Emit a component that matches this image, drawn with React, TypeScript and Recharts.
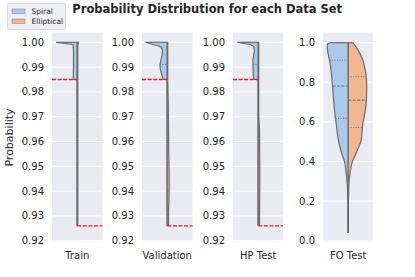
import {
  ComposedChart,
  Area,
  XAxis,
  YAxis,
  CartesianGrid,
  ReferenceLine,
} from "recharts";

const FONT = "DejaVu Sans, sans-serif";
const TEXT = "#262626";
const SPIRAL_COLOR = "#abc9ea";
const ELLIPTICAL_COLOR = "#efb792";
const EDGE = "#6b6b6b";
const THRESHOLD_COLOR = "#ff1414";

const seriesNames = ["Spiral", "Elliptical"];
const dataSets = ["Train", "Validation", "HP Test", "FO Test"];

// probability levels and half-widths of each violin (1 = half of the panel);
// a level listed twice marks where a half is cut off flat
const trainP = [1.0, 0.9996, 0.9992, 0.999, 0.997, 0.993, 0.99, 0.985, 0.985, 0.97, 0.95, 0.935, 0.926];
const trainSpiral = [0.83, 0.5, 0.25, 0.17, 0.15, 0.15, 0.15, 0.16, 0, 0, 0, 0, 0];
const trainElliptical = [0.07, 0.04, 0.03, 0.025, 0.02, 0.02, 0.02, 0.02, 0.02, 0.02, 0.02, 0.02, 0.02];

const valP = [1.0, 0.9994, 0.9989, 0.9985, 0.998, 0.9969, 0.9949, 0.9929, 0.9909, 0.9888, 0.9868, 0.985, 0.985, 0.975, 0.965, 0.955, 0.945, 0.937, 0.932, 0.926];
const valSpiral = [0.85, 0.68, 0.5, 0.33, 0.24, 0.19, 0.2, 0.25, 0.29, 0.27, 0.21, 0.17, 0, 0, 0, 0, 0, 0, 0, 0];
const valElliptical = [0.03, 0.02, 0.02, 0.02, 0.02, 0.02, 0.02, 0.02, 0.02, 0.02, 0.02, 0.02, 0.02, 0.04, 0.05, 0.06, 0.08, 0.07, 0.05, 0.05];

const hpP = [1.0, 0.9995, 0.999, 0.9985, 0.9982, 0.9974, 0.9966, 0.995, 0.993, 0.99, 0.9875, 0.985, 0.985, 0.97, 0.965, 0.95, 0.94, 0.93, 0.926];
const hpSpiral = [0.82, 0.55, 0.29, 0.22, 0.18, 0.16, 0.15, 0.18, 0.21, 0.21, 0.2, 0.18, 0, 0, 0, 0, 0, 0, 0];
const hpElliptical = [0.02, 0.02, 0.02, 0.02, 0.02, 0.02, 0.02, 0.02, 0.02, 0.02, 0.02, 0.02, 0.02, 0.02, 0.05, 0.06, 0.06, 0.05, 0.05];

const foP = [1.0, 0.99, 0.98, 0.946, 0.91, 0.863, 0.82, 0.778, 0.71, 0.643, 0.593, 0.542, 0.508, 0.475, 0.458, 0.433, 0.407, 0.39, 0.357, 0.34, 0.306, 0.29, 0.256, 0.22, 0.189, 0.1, 0.04];
const foSpiral = [0.74, 0.83, 0.83, 0.8, 0.74, 0.68, 0.65, 0.62, 0.58, 0.53, 0.48, 0.43, 0.39, 0.33, 0.3, 0.24, 0.17, 0.13, 0.1, 0.08, 0.055, 0.045, 0.03, 0.02, 0.015, 0.01, 0.008];
const foElliptical = [0.18, 0.24, 0.3, 0.46, 0.58, 0.67, 0.72, 0.73, 0.72, 0.65, 0.58, 0.54, 0.51, 0.42, 0.36, 0.28, 0.19, 0.14, 0.09, 0.07, 0.04, 0.03, 0.02, 0.01, 0.004, 0, 0];

// quartile lines inside the halves
const foSpiralQuartiles = [0.912, 0.781, 0.618];
const foEllipticalQuartiles = [0.828, 0.71, 0.572];
const valSpiralQuartiles = [0.9911];
const hpSpiralQuartiles = [0.9911];

// red threshold lines: spiral on the left half, elliptical on the right half
const spiralThreshold = 0.985;
const ellipticalThreshold = 0.926;

const highTicks = [0.92, 0.93, 0.94, 0.95, 0.96, 0.97, 0.98, 0.99, 1.0];
const fullTicks = [0.0, 0.2, 0.4, 0.6, 0.8, 1.0];

const PANEL_W = 50.5;
const PANEL_GAP = 90.3;
const FIRST_LEFT = 52;
const AXIS_W = 45;
const PLOT_TOP = 32;
const PLOT_H = 210;
const XAXIS_H = 25;

function widthAt(p: number[], w: number[], q: number) {
  for (let i = 0; i < p.length - 1; i++) {
    const a = p[i];
    const b = p[i + 1];
    if (a !== b && ((q <= a && q >= b) || (q >= a && q <= b))) {
      return w[i] + ((q - a) / (b - a)) * (w[i + 1] - w[i]);
    }
  }
  return 0;
}

type Segment = [{ x: number; y: number }, { x: number; y: number }];

type PanelProps = {
  name: string;
  index: number;
  p: number[];
  spiral: number[];
  elliptical: number[];
  domain: [number, number];
  ticks: number[];
  digits: number;
  curve: "linear" | "monotone";
  spiralQuartiles: number[];
  ellipticalQuartiles: number[];
  thresholds: boolean;
};

function ViolinPanel({
  name,
  index,
  p,
  spiral,
  elliptical,
  domain,
  ticks,
  digits,
  curve,
  spiralQuartiles,
  ellipticalQuartiles,
  thresholds,
}: PanelProps) {
  const data = p.map((v, i) => ({
    p: v,
    spiral: [-spiral[i], 0],
    elliptical: [0, elliptical[i]],
  }));
  const top = p[0];
  const tickStyle = { fontSize: 10, fill: TEXT, fontFamily: FONT };

  const inner: { seg: Segment; dash: string }[] = [
    ...spiralQuartiles.map((q, i) => ({
      seg: [
        { x: -widthAt(p, spiral, q), y: q },
        { x: 0, y: q },
      ] as Segment,
      dash: i === 1 ? "3 1.5" : "1 1.5",
    })),
    ...ellipticalQuartiles.map((q, i) => ({
      seg: [
        { x: 0, y: q },
        { x: widthAt(p, elliptical, q), y: q },
      ] as Segment,
      dash: i === 1 ? "3 1.5" : "1 1.5",
    })),
  ];

  const redLines: Segment[] = thresholds
    ? [
        [
          { x: -1, y: spiralThreshold },
          { x: 0, y: spiralThreshold },
        ],
        [
          { x: 0, y: ellipticalThreshold },
          { x: 1, y: ellipticalThreshold },
        ],
      ]
    : [];

  const nameTick = (props: any) => (
    <text
      x={props.x}
      y={props.y}
      dy="0.71em"
      textAnchor="middle"
      fontSize={10}
      fill={TEXT}
      fontFamily={FONT}
    >
      {name}
    </text>
  );

  return (
    <div
      style={{
        position: "absolute",
        left: FIRST_LEFT + index * PANEL_GAP - AXIS_W,
        top: PLOT_TOP,
      }}
    >
      <ComposedChart
        layout="vertical"
        width={AXIS_W + PANEL_W}
        height={PLOT_H + XAXIS_H}
        data={data}
        margin={{ top: 0, right: 0, bottom: 0, left: 0 }}
      >
        <CartesianGrid
          vertical={false}
          stroke="#ffffff"
          strokeWidth={1}
          fill="#eaeaf2"
          fillOpacity={1}
        />
        <XAxis
          type="number"
          domain={[-1, 1]}
          ticks={[0]}
          interval={0}
          axisLine={false}
          tickLine={false}
          tickSize={0}
          tickMargin={10}
          height={XAXIS_H}
          tick={nameTick}
          allowDataOverflow
        />
        <YAxis
          type="number"
          dataKey="p"
          domain={domain}
          ticks={ticks}
          interval={0}
          reversed
          tickFormatter={(v: number) => v.toFixed(digits)}
          axisLine={false}
          tickLine={false}
          tickSize={0}
          tickMargin={8}
          width={AXIS_W}
          tick={tickStyle}
          allowDataOverflow
        />
        <Area
          dataKey="spiral"
          type={curve}
          fill={SPIRAL_COLOR}
          fillOpacity={1}
          stroke={EDGE}
          strokeWidth={1.2}
          dot={false}
          activeDot={false}
          isAnimationActive={false}
        />
        <Area
          dataKey="elliptical"
          type={curve}
          fill={ELLIPTICAL_COLOR}
          fillOpacity={1}
          stroke={EDGE}
          strokeWidth={1.2}
          dot={false}
          activeDot={false}
          isAnimationActive={false}
        />
        {redLines.map((seg, i) => (
          <ReferenceLine
            key={"red" + i}
            segment={seg}
            stroke={THRESHOLD_COLOR}
            strokeWidth={1.3}
            strokeDasharray="4 1.6"
          />
        ))}
        <ReferenceLine
          segment={[
            { x: -spiral[0], y: top },
            { x: elliptical[0], y: top },
          ]}
          stroke={EDGE}
          strokeWidth={1.2}
        />
        {inner.map((l, i) => (
          <ReferenceLine
            key={"q" + i}
            segment={l.seg}
            stroke={EDGE}
            strokeWidth={1}
            strokeDasharray={l.dash}
          />
        ))}
      </ComposedChart>
    </div>
  );
}

const highDomain: [number, number] = [0.91948, 1.00415];
const fullDomain: [number, number] = [-0.0066, 1.054];

export default function App() {
  return (
    <div
      style={{
        position: "absolute",
        left: 0,
        top: 0,
        width: 415,
        height: 277,
        background: "#ffffff",
        fontFamily: FONT,
      }}
    >
      <svg
        width={415}
        height={277}
        style={{ position: "absolute", left: 0, top: 0 }}
      >
        <text
          x={207.2}
          y={13.4}
          textAnchor="middle"
          fontSize={11.5}
          fontWeight="bold"
          fill={TEXT}
          fontFamily={FONT}
        >
          Probability Distribution for each Data Set
        </text>
        <text
          transform="translate(13.4,137.5) rotate(-90)"
          textAnchor="middle"
          fontSize={11}
          fill={TEXT}
          fontFamily={FONT}
        >
          Probability
        </text>
        <rect
          x={7.5}
          y={3.5}
          width={58}
          height={26}
          rx={2}
          fill="#eeeef4"
          stroke="#d2d2d2"
          strokeWidth={0.8}
        />
        {seriesNames.map((s, i) => (
          <g key={s}>
            <rect
              x={12}
              y={9 + i * 10}
              width={13}
              height={4.5}
              fill={i === 0 ? SPIRAL_COLOR : ELLIPTICAL_COLOR}
              stroke={EDGE}
              strokeWidth={0.4}
            />
            <text
              x={31.5}
              y={13.6 + i * 10}
              fontSize={7.5}
              fill={TEXT}
              fontFamily={FONT}
            >
              {s}
            </text>
          </g>
        ))}
      </svg>
      <ViolinPanel
        name={dataSets[0]}
        index={0}
        p={trainP}
        spiral={trainSpiral}
        elliptical={trainElliptical}
        domain={highDomain}
        ticks={highTicks}
        digits={2}
        curve="linear"
        spiralQuartiles={[]}
        ellipticalQuartiles={[]}
        thresholds
      />
      <ViolinPanel
        name={dataSets[1]}
        index={1}
        p={valP}
        spiral={valSpiral}
        elliptical={valElliptical}
        domain={highDomain}
        ticks={highTicks}
        digits={2}
        curve="linear"
        spiralQuartiles={valSpiralQuartiles}
        ellipticalQuartiles={[]}
        thresholds
      />
      <ViolinPanel
        name={dataSets[2]}
        index={2}
        p={hpP}
        spiral={hpSpiral}
        elliptical={hpElliptical}
        domain={highDomain}
        ticks={highTicks}
        digits={2}
        curve="linear"
        spiralQuartiles={hpSpiralQuartiles}
        ellipticalQuartiles={[]}
        thresholds
      />
      <ViolinPanel
        name={dataSets[3]}
        index={3}
        p={foP}
        spiral={foSpiral}
        elliptical={foElliptical}
        domain={fullDomain}
        ticks={fullTicks}
        digits={1}
        curve="monotone"
        spiralQuartiles={foSpiralQuartiles}
        ellipticalQuartiles={foEllipticalQuartiles}
        thresholds={false}
      />
    </div>
  );
}
